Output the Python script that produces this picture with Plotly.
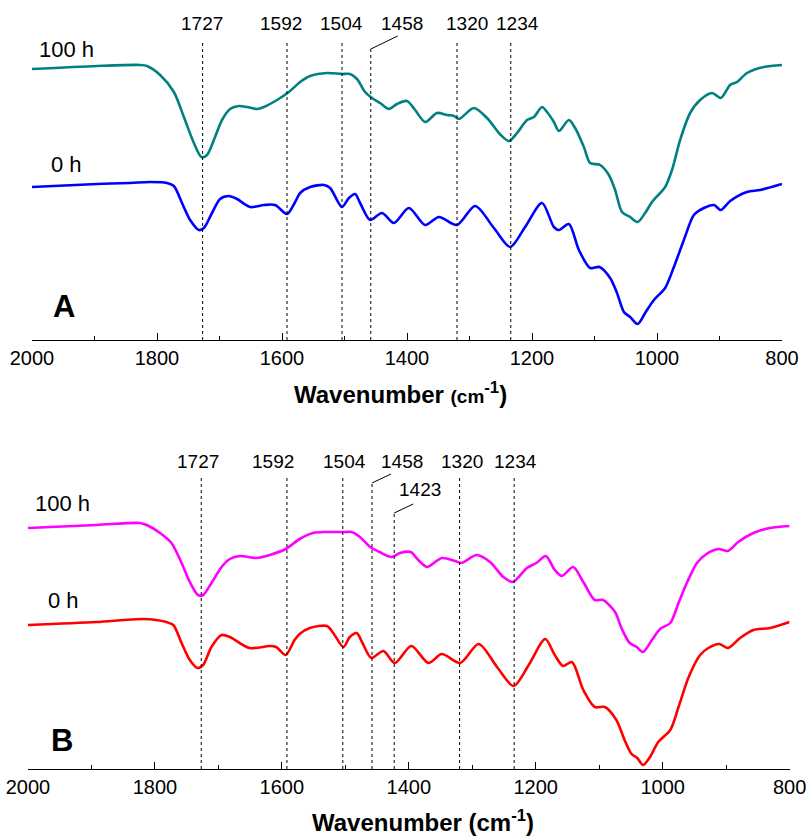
import plotly.graph_objects as go

# ---------------- data (wavenumber, cm-1 ; offset intensity, a.u.) ----------------
# Panel A
wn_a_100h = [2000, 1896, 1827, 1816, 1795, 1773, 1757, 1741, 1729, 1720, 1709, 1696, 1683, 1669,
             1656, 1640, 1629, 1608, 1589, 1571, 1555, 1528, 1504, 1491, 1480, 1467, 1456, 1443,
             1429, 1416, 1400, 1387, 1371, 1352, 1336, 1325, 1317, 1293, 1272, 1250, 1237, 1224,
             1208, 1197, 1184, 1176, 1165, 1157, 1141, 1131, 1117, 1107, 1091, 1077, 1067, 1056,
             1043, 1031, 1019, 1008, 987, 976, 963, 947, 931, 912, 898, 883, 872, 856, 829, 800]
ab_a_100h = [271, 274, 275, 274, 265, 248, 223, 197, 183, 185, 200, 220, 231, 234,
             233, 231, 233, 240, 248, 258, 264, 267, 266, 266, 261, 248, 242, 237,
             231, 236, 239, 230, 218, 227, 225, 224, 221, 232, 222, 205, 199, 207,
             220, 223, 233, 228, 218, 209, 220, 212, 193, 177, 175, 165, 150, 128,
             123, 118, 127, 138, 153, 170, 200, 227, 240, 247, 242, 255, 258, 267, 273, 275]

wn_a_0h = [2000, 1896, 1843, 1811, 1784, 1773, 1760, 1747, 1733, 1725, 1712, 1699, 1685, 1672,
           1651, 1629, 1611, 1592, 1579, 1571, 1555, 1533, 1523, 1504, 1493, 1483, 1475, 1459,
           1440, 1421, 1397, 1371, 1349, 1320, 1291, 1261, 1235, 1211, 1184, 1165, 1157, 1141,
           1125, 1107, 1092, 1075, 1064, 1053, 1043, 1031, 1019, 1005, 987, 973, 957, 941,
           925, 909, 898, 883, 856, 835, 800]
ab_a_0h = [153, 156, 157, 158, 157, 154, 137, 120, 110, 112, 127, 141, 144, 141,
           133, 135, 135, 126, 138, 147, 153, 155, 152, 133, 142, 146, 137, 120,
           127, 117, 132, 115, 123, 115, 134, 112, 93, 113, 137, 113, 110, 116,
           90, 72, 73, 62, 47, 28, 23, 16, 27, 40, 52, 73, 100, 125,
           132, 135, 130, 139, 148, 150, 156]

# Panel B
wn_b_100h = [2000, 1892, 1824, 1813, 1792, 1774, 1758, 1745, 1732, 1724, 1711, 1695, 1682, 1666,
             1640, 1619, 1594, 1572, 1551, 1529, 1501, 1490, 1477, 1461, 1446, 1427, 1414, 1397,
             1385, 1371, 1348, 1327, 1317, 1293, 1272, 1251, 1236, 1214, 1199, 1184, 1170, 1159,
             1141, 1125, 1107, 1094, 1075, 1065, 1052, 1041, 1031, 1017, 1004, 988, 975, 962,
             946, 931, 912, 897, 881, 857, 831, 800]
ab_b_100h = [241, 244, 246, 244, 236, 226, 206, 187, 174, 174, 186, 202, 210, 213,
             211, 214, 220, 230, 236, 237, 237, 237, 232, 222, 217, 212, 216, 217,
             209, 202, 211, 208, 206, 214, 207, 192, 187, 201, 206, 213, 199, 193,
             202, 187, 169, 169, 157, 141, 126, 122, 117, 129, 140, 146, 166, 186,
             206, 215, 220, 218, 227, 236, 241, 243]

wn_b_0h = [2000, 1892, 1818, 1782, 1771, 1758, 1745, 1733, 1724, 1711, 1695, 1682, 1651, 1619,
           1609, 1594, 1580, 1572, 1556, 1529, 1519, 1503, 1493, 1482, 1473, 1459, 1440, 1422,
           1396, 1369, 1348, 1319, 1290, 1261, 1235, 1211, 1185, 1170, 1157, 1143, 1125, 1107,
           1091, 1073, 1060, 1049, 1040, 1031, 1020, 1007, 988, 975, 959, 941, 928, 911,
           897, 878, 857, 831, 800]
ab_b_0h = [144, 147, 150, 147, 144, 126, 109, 101, 104, 122, 134, 132, 121, 123,
           122, 114, 129, 135, 141, 143, 136, 122, 132, 136, 126, 111, 118, 106,
           123, 106, 115, 106, 125, 102, 83, 104, 130, 114, 103, 107, 79, 62,
           62, 49, 29, 15, 11, 4, 12, 27, 39, 62, 92, 114, 121, 125,
           121, 131, 139, 141, 147]

peaks_a = [1727, 1592, 1504, 1458, 1320, 1234]
peaks_b = [1727, 1592, 1504, 1458, 1423, 1320, 1234]
x_ticks = [2000, 1800, 1600, 1400, 1200, 1000, 800]
series_labels = ["100 h", "0 h"]
panel_labels = ["A", "B"]

# ---------------- style ----------------
W, H = 809, 837
FONT = "Liberation Sans, Arial, sans-serif"
col_a = ["#008080", "#0000FF"]
col_b = ["#FF00FF", "#FF0000"]

fig = go.Figure()

def add_line(x, y, color, xa, ya):
    fig.add_trace(go.Scatter(x=x, y=y, mode="lines", xaxis=xa, yaxis=ya, showlegend=False,
                             line=dict(color=color, width=2.6, shape="spline", smoothing=0.8)))

add_line(wn_a_100h, ab_a_100h, col_a[0], "x", "y")
add_line(wn_a_0h, ab_a_0h, col_a[1], "x", "y")
add_line(wn_b_100h, ab_b_100h, col_b[0], "x2", "y2")
add_line(wn_b_0h, ab_b_0h, col_b[1], "x2", "y2")

def xaxis_style(domain, anchor):
    return dict(domain=domain, anchor=anchor, range=[2000, 800], showline=True, linecolor="black",
                linewidth=1.3, ticks="inside", ticklen=7, tickwidth=1.2, tickcolor="black",
                tickvals=x_ticks, ticktext=[str(v) for v in x_ticks], showgrid=False,
                zeroline=False, automargin=False,
                tickfont=dict(family=FONT, size=20, color="black"),
                minor=dict(ticks="inside", ticklen=4, tickwidth=1, tickcolor="black",
                           dtick=100, tick0=800, showgrid=False))

def yaxis_style(domain, anchor):
    return dict(domain=domain, anchor=anchor, range=[0, 340], visible=False, showgrid=False,
                zeroline=False, automargin=False)

fig.update_layout(
    width=W, height=H, margin=dict(l=0, r=0, t=0, b=0, pad=0, autoexpand=False),
    paper_bgcolor="white", plot_bgcolor="white",
    xaxis=xaxis_style([32 / W, 782 / W], "y"),
    yaxis=yaxis_style([1 - 340 / H, 1.0], "x"),
    xaxis2=xaxis_style([28 / W, 789.6 / W], "y2"),
    yaxis2=yaxis_style([1 - 769 / H, 1 - 429 / H], "x2"),
)

dash = dict(color="black", width=1, dash="3px,3px")
shapes = []
annots = []

# panel A peak markers
top_a = 300
shift_a = {1727: -1, 1592: -6, 1504: -1, 1458: 31, 1320: 10, 1234: 7}
for p in peaks_a:
    ytop = top_a - 9 if p == 1458 else top_a
    shapes.append(dict(type="line", xref="x", yref="y", x0=p, x1=p, y0=0, y1=ytop, line=dash))
    annots.append(dict(xref="x", yref="y", x=p, y=317, text=str(p), showarrow=False,
                       xshift=shift_a[p], font=dict(family=FONT, size=19, color="black")))
    if p == 1458:
        shapes.append(dict(type="line", xref="x", yref="y", xsizemode="pixel", ysizemode="pixel",
                           xanchor=p, yanchor=ytop, x0=0, x1=27, y0=0, y1=13,
                           line=dict(color="black", width=1)))

# panel B peak markers
top_b = 291
shift_b = {1727: -3, 1592: -14, 1504: 2, 1458: 30, 1423: 26, 1320: 2, 1234: 1}
for p in peaks_b:
    if p == 1458:
        ytop = top_b - 5
    elif p == 1423:
        ytop = 256
    else:
        ytop = top_b
    shapes.append(dict(type="line", xref="x2", yref="y2", x0=p, x1=p, y0=0, y1=ytop, line=dash))
    ly = 279 if p == 1423 else 307
    annots.append(dict(xref="x2", yref="y2", x=p, y=ly, text=str(p), showarrow=False,
                       xshift=shift_b[p], font=dict(family=FONT, size=19, color="black")))
    if p in (1458, 1423):
        shapes.append(dict(type="line", xref="x2", yref="y2", xsizemode="pixel", ysizemode="pixel",
                           xanchor=p, yanchor=ytop, x0=0, x1=19, y0=0, y1=9,
                           line=dict(color="black", width=1)))

def txt(px, py, text, size, bold=False):
    annots.append(dict(xref="paper", yref="paper", x=px / W, y=1 - py / H, text=text,
                       showarrow=False, xanchor="center", yanchor="middle",
                       font=dict(family=FONT, size=size, color="black",
                                 weight="bold" if bold else "normal")))

# series and panel labels
txt(66, 50, series_labels[0], 22)
txt(66.5, 164, series_labels[1], 22)
txt(63.5, 306, panel_labels[0], 31, True)
txt(62.5, 503, series_labels[0], 22)
txt(63, 600, series_labels[1], 22)
txt(62, 740, panel_labels[1], 31, True)

# axis titles
txt(400, 393, "Wavenumber <span style='font-size:19px'>(cm</span><sup>-1</sup>)", 24, True)
txt(423, 821, "Wavenumber (cm<sup>-1</sup>)", 24, True)

fig.update_layout(shapes=shapes, annotations=annots)
fig.write_html("out.html", config={"displayModeBar": False},
               post_script="document.body.style.margin='0';document.body.style.overflow='hidden';")
